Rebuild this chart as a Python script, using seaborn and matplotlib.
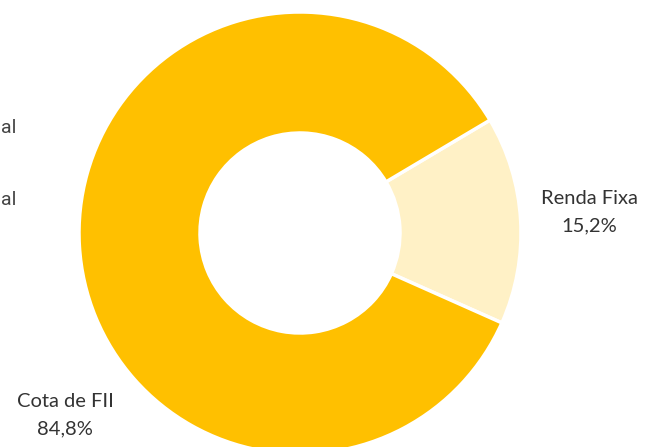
import matplotlib
matplotlib.use("Agg")
import matplotlib.pyplot as plt
import seaborn as sns

# data
categories = ["Renda Fixa", "Cota de FII"]
shares = [15.2, 84.8]
colors = ["#FFF1C6", "#FFC000"]
cut_legend = ["al", "al"]

sns.set_theme(style="white")
plt.rcParams['font.family'] = ['Lato', 'DejaVu Sans']

fig = plt.figure(figsize=(6.45, 4.47), dpi=100)
ax = fig.add_axes([0, 0, 1, 1])

ax.pie(shares, colors=colors, startangle=-24, counterclock=True,
       center=(300, 214), radius=221, frame=True,
       wedgeprops=dict(width=121, edgecolor='white', linewidth=2.5))
ax.set_xlim(0, 645)
ax.set_ylim(0, 447)
ax.set_aspect('equal')
ax.axis('off')

label_pos = [(589, 235), (65, 32)]
for cat, val, (x, y) in zip(categories, shares, label_pos):
    ax.text(x, y, f"{cat}\n{str(val).replace('.', ',')}%", ha='center', va='center',
            fontsize=14.5, color='#333333', linespacing=1.7)

# legend text that the reference shows cut at the left edge
for txt, y in zip(cut_legend, [319, 247]):
    ax.text(0.5, y, txt, ha='left', va='center', fontsize=14,
            color='#444444', family=['Roboto', 'DejaVu Sans'])

fig.savefig("out.png", dpi=100)
